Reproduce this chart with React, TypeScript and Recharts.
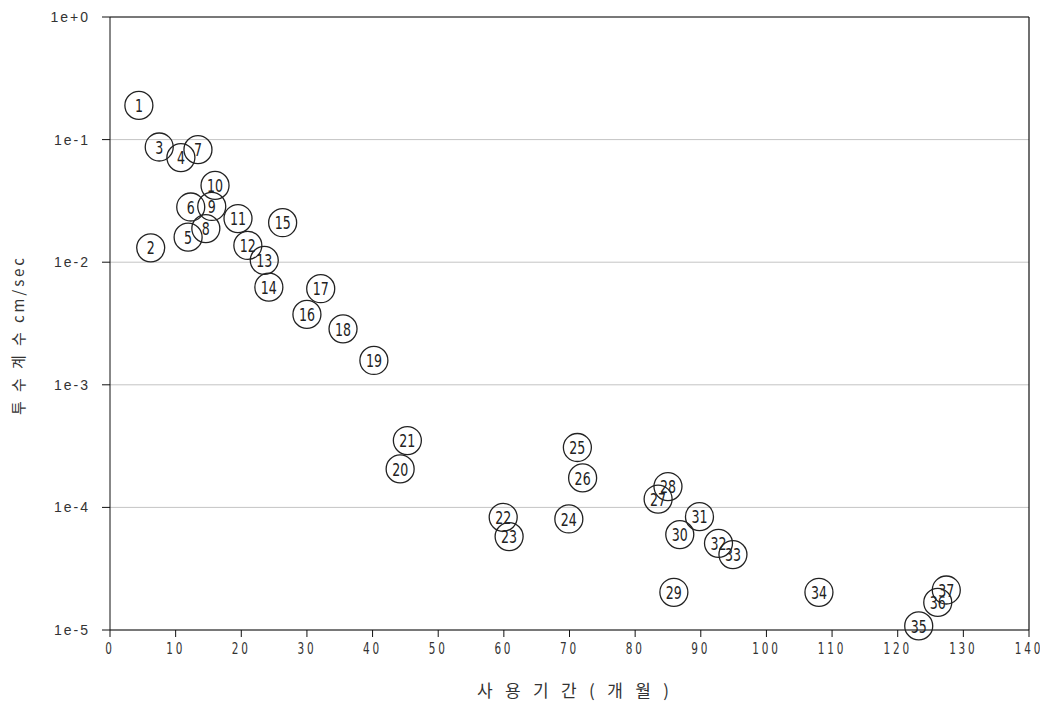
import {
  ScatterChart,
  Scatter,
  XAxis,
  YAxis,
  CartesianGrid,
  ReferenceLine,
  Label
} from 'recharts'

// sample number, usage period (months), permeability coefficient (cm/sec)
const sampleIds = [
  1, 2, 3, 4, 5, 6, 7, 8, 9, 10, 11, 12, 13, 14, 15, 16, 17, 18, 19,
  20, 21, 22, 23, 24, 25, 26, 27, 28, 29, 30, 31, 32, 33, 34, 35, 36, 37
]
const months = [
  4.4, 6.2, 7.5, 10.8, 11.9, 12.3, 13.4, 14.6, 15.5, 16.0, 19.5, 21.0, 23.5, 24.2, 26.3, 30.0, 32.1, 35.5, 40.2,
  44.2, 45.3, 59.9, 60.8, 69.9, 71.2, 72.0, 83.5, 85.0, 85.9, 86.8, 89.8, 92.7, 94.9, 108.0, 123.2, 126.1, 127.4
]
const permeability = [
  0.19, 0.0131, 0.087, 0.0713, 0.016, 0.0282, 0.0828, 0.0188, 0.0285, 0.0423, 0.0227, 0.0137, 0.01035, 0.00626,
  0.021, 0.00375, 0.00608, 0.00286, 0.00158,
  2.06e-4, 3.51e-4, 8.3e-5, 5.78e-5, 8.05e-5, 3.08e-4, 1.74e-4, 1.17e-4, 1.48e-4, 2.03e-5, 6.0e-5, 8.4e-5,
  5.09e-5, 4.12e-5, 2.03e-5, 1.08e-5, 1.68e-5, 2.12e-5
]

const xTicks = [0, 10, 20, 30, 40, 50, 60, 70, 80, 90, 100, 110, 120, 130, 140]
const yTicks = [1, 0.1, 0.01, 0.001, 0.0001, 0.00001]
const yTickLabels = ['1e+0', '1e-1', '1e-2', '1e-3', '1e-4', '1e-5']

const points = sampleIds.map((id, i) => ({ id, x: months[i], y: permeability[i] }))

const SANS = "'DejaVu Sans', sans-serif"
const ARIAL = "'Liberation Sans', sans-serif"
const KR = "'Noto Sans CJK KR', sans-serif"

const NumberedCircle = (props: any) => {
  const { cx, cy, payload } = props
  if (cx == null || cy == null) return null
  return (
    <g>
      <circle cx={cx} cy={cy} r={14} fill="none" stroke="#222" strokeWidth={1.3} />
      <text
        transform={`translate(${cx},${cy}) scale(0.7,1)`}
        x={0}
        y={0}
        dy="0.37em"
        textAnchor="middle"
        fontSize={18}
        fontFamily={SANS}
        fill="#222"
      >
        {payload.id}
      </text>
    </g>
  )
}

const XTick = (props: any) => {
  const { x, y, payload } = props
  return (
    <text
      transform={`translate(${x},${y}) scale(0.7,1)`}
      x={0}
      y={0}
      dy="0.9em"
      textAnchor="middle"
      fontSize={15}
      letterSpacing={4}
      fontFamily={SANS}
      fill="#333"
    >
      {payload.value}
    </text>
  )
}

const YTick = (props: any) => {
  const { x, y, payload } = props
  return (
    <text
      x={x}
      y={y}
      dy="0.36em"
      textAnchor="end"
      fontSize={14}
      letterSpacing={2}
      fontFamily={ARIAL}
      fill="#333"
    >
      {yTickLabels[yTicks.indexOf(payload.value)] ?? ''}
    </text>
  )
}

export default function App() {
  return (
    <div style={{ width: 1040, height: 700, background: '#fff' }}>
      <ScatterChart
        width={1040}
        height={700}
        margin={{ top: 9, right: 19, bottom: 48, left: 0 }}
      >
        <CartesianGrid vertical={false} stroke="#c4c4c4" />
        <XAxis
          dataKey="x"
          type="number"
          domain={[0, 140]}
          ticks={xTicks}
          interval={0}
          height={30}
          stroke="#111"
          tickSize={7}
          tickMargin={3}
          tick={<XTick />}
        >
          <Label
            content={() => (
              <text
                x={469}
                y={689}
                textLength={192}
                lengthAdjust="spacing"
                fontSize={17}
                fontFamily={KR}
                fill="#333"
              >
                사 용 기 간 ( 개 월 )
              </text>
            )}
          />
        </XAxis>
        <YAxis
          dataKey="y"
          type="number"
          scale="log"
          domain={[0.00001, 1]}
          ticks={yTicks}
          interval={0}
          width={102}
          stroke="#111"
          tickSize={8}
          tickMargin={12}
          tick={<YTick />}
        >
          <Label
            content={() => (
              <text
                x={12}
                y={407}
                transform="rotate(-90 12 407)"
                textLength={157}
                lengthAdjust="spacing"
                dominantBaseline="middle"
                fontSize={15}
                fontFamily={KR}
                fill="#333"
              >
                {'투 수 계 수   cm/sec'}
              </text>
            )}
          />
        </YAxis>
        <ReferenceLine y={1} stroke="#111" strokeWidth={1.2} />
        <ReferenceLine x={140} stroke="#111" strokeWidth={1.2} />
        <Scatter
          data={points}
          shape={NumberedCircle}
          isAnimationActive={false}
        />
      </ScatterChart>
    </div>
  )
}
